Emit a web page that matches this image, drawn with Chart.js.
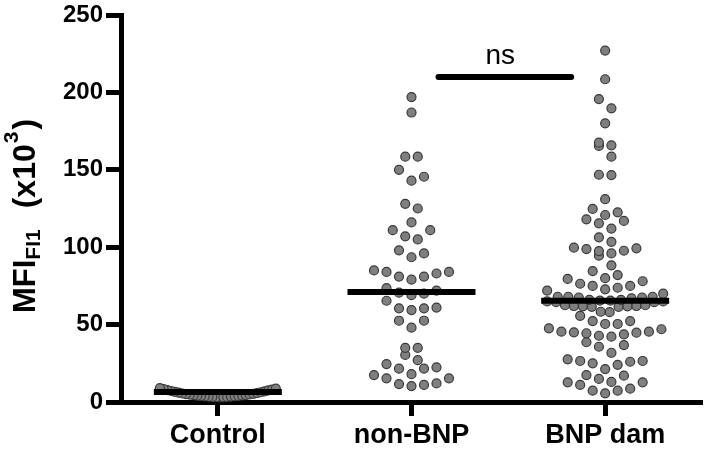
<!DOCTYPE html>
<html><head><meta charset="utf-8">
<script src="https://cdn.jsdelivr.net/npm/chart.js@4.4.1/dist/chart.umd.min.js"></script>
<style>html,body{margin:0;padding:0;background:#fff}#wrap{position:relative;width:709px;height:452px}</style>
</head><body><div id="wrap"><canvas id="c" width="709" height="452"></canvas></div>
<script>
// ---- data ----
const categories = ['Control', 'non-BNP', 'BNP dam'];
const controlValues = [8.9, 8.6, 8.4, 8.0, 7.7, 7.5, 7.1, 6.8, 6.6, 6.3, 6.0, 5.8, 5.5, 5.3, 5.1, 4.9,
  4.7, 4.5, 4.4, 4.2, 4.1, 3.9, 3.8, 3.7, 3.6, 3.5, 3.4, 3.3, 3.3, 3.2, 3.1, 3.0];
const nonBnpValues = [197, 187, 158.5, 158.5, 150, 145.5, 143, 128, 125, 116, 111, 111, 105, 107, 96, 98,
  93.5, 85, 84, 81, 79, 81, 83, 84, 72, 70, 69, 70.6, 73.5, 65.4, 60.5, 59.4, 60.5, 61, 52.5, 48, 52.5,
  35, 35, 30.4, 24.5, 21.5, 21.5, 22.4, 27, 17.4, 15.3, 11.6, 10.3, 11, 12, 15.3, 18];
const bnpDamValues = [227, 208.5, 195.7, 189.7, 180, 165.4, 167.5, 165.8, 158.5, 146.6, 146.8, 131, 124.7,
  122.5, 120.8, 118, 115.4, 117, 112, 106.4, 103.5, 99.7, 98.8, 97.5, 97.7, 99.3, 94.5, 96, 88.3, 84.6, 82,
  78, 79.5, 80, 76.4, 75, 73.8, 72, 72.8, 75, 70, 68, 67.5, 67, 68, 67.5, 68, 66, 65.5, 65, 64.5, 64.5, 65,
  65.5, 66, 62.5, 62, 61.8, 61.5, 61.5, 61.8, 62, 62.5, 58, 58.3, 55.7, 52.3, 50.4, 50.4, 52.3, 47, 45.4,
  44.8, 43.7, 42.2, 42.8, 44.4, 45, 45.4, 47.6, 38.6, 35.7, 36.8, 31.8, 26.5, 26, 24, 25, 26.5, 27.6, 21.3,
  17, 17.4, 13, 11, 14.9, 12.7, 12.7, 7.3, 5.6, 7.3, 8.6];
const meanValues = [6.5, 71, 65.4];
const yTicks = [0, 50, 100, 150, 200, 250];
const sigGroups = ['non-BNP', 'BNP dam'];
const sigLevel = 210;
const sigLabel = 'ns';
const groups = [controlValues, nonBnpValues, bnpDamValues];

// ---- styling ----
const FONT = '"Liberation Sans", Arial, Helvetica, sans-serif';

function swarm(values, center, pxPerX, pxPerY) {
  const binH = 11 / pxPerY, spacing = 12.5, maxHalf = 58;
  const sorted = values.slice().sort((a, b) => a - b);
  const out = [];
  let i = 0;
  while (i < sorted.length) {
    const start = sorted[i], row = [];
    while (i < sorted.length && sorted[i] - start < binH) row.push(sorted[i++]);
    const n = row.length;
    let sp = spacing;
    if (n > 1 && (n - 1) * sp / 2 > maxHalf) sp = 2 * maxHalf / (n - 1);
    const slots = [];
    for (let k = 0; k < n; k++) slots.push((k - (n - 1) / 2) * sp);
    slots.sort((a, b) => Math.abs(a) - Math.abs(b) || b - a);
    row.forEach((v, k) => out.push({ x: center + slots[k] / pxPerX, y: v }));
  }
  return out;
}

const annot = {
  id: 'annot',
  afterDraw(chart) {
    const ctx = chart.ctx, xs = chart.scales.x, ys = chart.scales.y;
    ctx.save();
    ctx.fillStyle = '#000';
    // significance label
    const i1 = categories.indexOf(sigGroups[0]) + 1, i2 = categories.indexOf(sigGroups[1]) + 1;
    const cx = (xs.getPixelForValue(i1) + xs.getPixelForValue(i2)) / 2;
    ctx.font = '28px ' + FONT;
    ctx.textAlign = 'center';
    ctx.textBaseline = 'alphabetic';
    ctx.fillText(sigLabel, cx - 8, ys.getPixelForValue(sigLevel) - 13);
    // y axis title with sub/superscript
    ctx.translate(35, 313);
    ctx.rotate(-Math.PI / 2);
    ctx.textAlign = 'left';
    let x = 0;
    const part = (t, size, dy, gapAfter) => {
      ctx.font = 'bold ' + size + 'px ' + FONT;
      ctx.fillText(t, x, dy);
      x += ctx.measureText(t).width + (gapAfter || 0);
    };
    part('MFI', 31, 0);
    part('FI1', 21, 5);
    x += 21;
    part('(x10', 32, 0, 1);
    part('3', 21, -17, 2);
    part(')', 32, 0);
    ctx.restore();
  }
};

const ctx = document.getElementById('c');
const chart = new Chart(ctx, {
  type: 'scatter',
  data: { datasets: [] },
  options: {
    responsive: false,
    animation: false,
    devicePixelRatio: 1,
    layout: { padding: { left: 0, right: 7, top: 15, bottom: 0 } },
    plugins: { legend: { display: false }, tooltip: { enabled: false } },
    scales: {
      x: {
        type: 'linear', min: 0.5, max: 3.5,
        afterBuildTicks: s => { s.ticks = categories.map((c, i) => ({ value: i + 1 })); },
        afterFit: s => { s.height = 50; },
        ticks: {
          callback: v => categories[v - 1], color: '#000', padding: 3,
          font: { family: FONT, size: 27, weight: 'bold' }, maxRotation: 0, autoSkip: false
        },
        grid: { drawOnChartArea: false, drawTicks: true, tickLength: 14, tickWidth: 5, tickColor: '#000' },
        border: { display: true, width: 5, color: '#000' }
      },
      y: {
        min: 0, max: 250,
        afterBuildTicks: s => { s.ticks = yTicks.map(v => ({ value: v })); },
        afterFit: s => { s.width = 121; },
        ticks: { color: '#000', padding: 3, font: { family: FONT, size: 24, weight: 'bold', lineHeight: 1 } },
        grid: { drawOnChartArea: false, drawTicks: true, tickLength: 15, tickWidth: 5, tickColor: '#000' },
        border: { display: true, width: 5, color: '#000' }
      }
    }
  },
  plugins: [annot]
});

const xs = chart.scales.x, ys = chart.scales.y;
const pxPerX = xs.getPixelForValue(2) - xs.getPixelForValue(1);
const pxPerY = ys.getPixelForValue(0) - ys.getPixelForValue(1);
const half = 64 / pxPerX;
const ds = [];
groups.forEach((vals, gi) => {
  ds.push({
    data: swarm(vals, gi + 1, pxPerX, pxPerY), order: 2, clip: false,
    pointRadius: 4.5, pointBackgroundColor: '#7f7f7f', pointBorderColor: '#3a3a3a', pointBorderWidth: 1.2,
    showLine: false
  });
});
meanValues.forEach((m, gi) => {
  ds.push({
    data: [{ x: gi + 1 - half, y: m }, { x: gi + 1 + half, y: m }], order: 1, clip: false,
    showLine: true, borderColor: '#000', borderWidth: 6, borderCapStyle: 'butt', pointRadius: 0
  });
});
const s1 = categories.indexOf(sigGroups[0]) + 1, s2 = categories.indexOf(sigGroups[1]) + 1;
ds.push({
  data: [{ x: s1 + 27 / pxPerX, y: sigLevel }, { x: s2 - 34 / pxPerX, y: sigLevel }], order: 0, clip: false,
  showLine: true, borderColor: '#000', borderWidth: 6, borderCapStyle: 'round', pointRadius: 0
});
chart.data.datasets = ds;
chart.update('none');
</script></body></html>
